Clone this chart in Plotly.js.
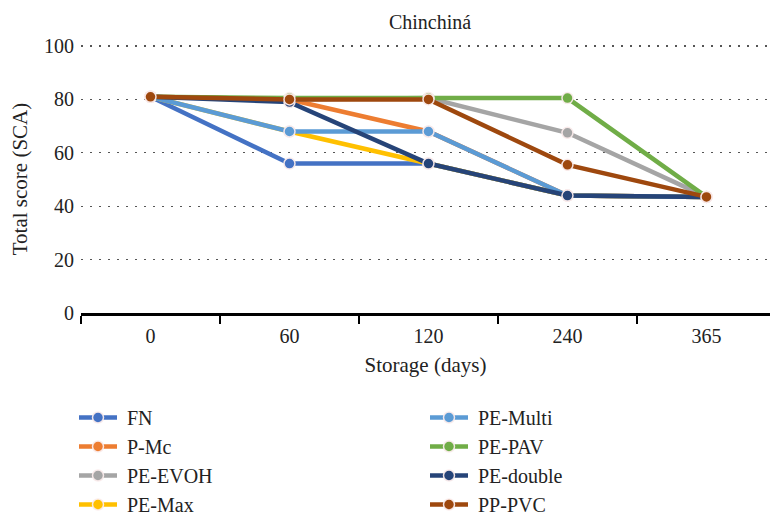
<!DOCTYPE html>
<html>
<head>
<meta charset="utf-8">
<script src="https://cdn.plot.ly/plotly-3.0.1.min.js"></script>
<style>html,body{margin:0;padding:0;background:#fff;}#chart{width:770px;height:515px;}</style>
</head>
<body>
<div id="chart"></div>
<script>
const categories = ["0", "60", "120", "240", "365"];
const seriesNames = ["FN", "P-Mc", "PE-EVOH", "PE-Max", "PE-Multi", "PE-PAV", "PE-double", "PP-PVC"];
const FN        = [81, 56, 56, 44, 43.5];
const P_Mc      = [81, 80, 68, 44, 43.5];
const PE_EVOH   = [81, 80, 80.5, 67.5, 43.5];
const PE_Max    = [81, 68, 56, 44, 43.5];
const PE_Multi  = [81, 68, 68, 44, 43.5];
const PE_PAV    = [81, 80.5, 80.5, 80.5, 43.5];
const PE_double = [81, 79, 56, 44, 43.5];
const PP_PVC    = [81, 80, 80, 55.5, 43.5];
const seriesValues = [FN, P_Mc, PE_EVOH, PE_Max, PE_Multi, PE_PAV, PE_double, PP_PVC];
const colors = ["#4472C4", "#ED7D31", "#A5A5A5", "#FFC000", "#5B9BD5", "#70AD47", "#264478", "#9E480E"];
const yTicks = [0, 20, 40, 60, 80, 100];

const FONT = "Liberation Serif, Times New Roman, serif";

const traces = seriesNames.map((name, i) => ({
  type: "scatter",
  mode: "lines+markers",
  name: "\u00A0" + name,
  x: categories,
  y: seriesValues[i],
  line: {color: colors[i], width: 4.5},
  marker: {color: colors[i], size: 11, line: {color: "rgba(250,235,235,0.95)", width: 1.5}},
  legend: i < 4 ? "legend" : "legend2",
  legendgroup: "g" + i,
  cliponaxis: false
}));

const PLOT_L = 81, PLOT_W = 689;
const legendCommon = {
  orientation: "v",
  traceorder: "grouped",
  tracegroupgap: 0,
  font: {family: FONT, size: 20, color: "#222"},
  bgcolor: "rgba(0,0,0,0)",
  xanchor: "left",
  yanchor: "top",
  xref: "paper",
  yref: "container",
  itemwidth: 38
};

const layout = {
  width: 770,
  height: 515,
  margin: {l: PLOT_L, r: 0, t: 45, b: 202},
  paper_bgcolor: "#fff",
  plot_bgcolor: "#fff",
  font: {family: FONT, size: 20, color: "#222"},
  title: {
    text: "Chinchiná",
    font: {family: FONT, size: 20, color: "#222"},
    x: 430 / 770, xanchor: "center",
    y: 1 - 22 / 515, yanchor: "middle"
  },
  xaxis: {
    type: "category",
    range: [-0.5, 4.457],
    tickson: "boundaries",
    ticks: "outside",
    ticklen: 8,
    tickwidth: 2.5,
    tickcolor: "#000",
    showline: true,
    linecolor: "#000",
    linewidth: 2.5,
    showgrid: false,
    ticklabelstandoff: 3,
    tickfont: {family: FONT, size: 20, color: "#222"},
    title: {text: "Storage (days)", font: {family: FONT, size: 21, color: "#222"}, standoff: 12}
  },
  yaxis: {
    range: [0, 100.4],
    tickvals: yTicks,
    ticktext: yTicks.map(String),
    showline: false,
    zeroline: false,
    showgrid: true,
    gridcolor: "#555",
    gridwidth: 1.3,
    griddash: "2px,7px",
    ticks: "",
    ticklabelstandoff: 6,
    tickfont: {family: FONT, size: 20, color: "#222"},
    title: {text: "Total score (SCA)", font: {family: FONT, size: 21, color: "#222"}, standoff: 10}
  },
  legend: Object.assign({}, legendCommon, {x: (74 - PLOT_L) / PLOT_W, y: 1 - 398 / 515}),
  legend2: Object.assign({}, legendCommon, {x: (425 - PLOT_L) / PLOT_W, y: 1 - 398 / 515}),
  showlegend: true
};

Plotly.newPlot("chart", traces, layout, {displayModeBar: false, staticPlot: true});
</script>
</body>
</html>
